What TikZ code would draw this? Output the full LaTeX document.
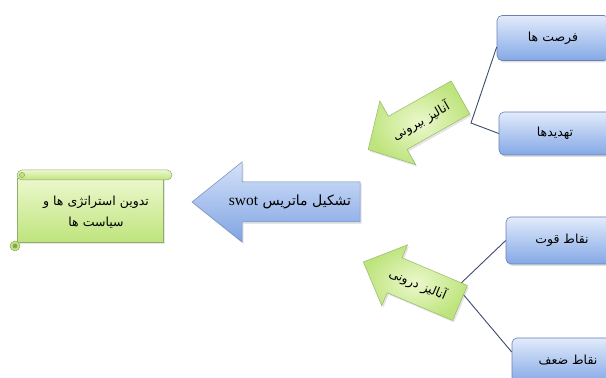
\documentclass[tikz,border=0pt]{standalone}
\usepackage{fontspec}
\usetikzlibrary{shadows,calc}
\TeXXeTstate=1
\newfontfamily\fa[Script=Arabic]{DejaVu Sans}
\newfontfamily\lser{Liberation Serif}
\definecolor{boxtop}{RGB}{226,235,251}
\definecolor{boxbot}{RGB}{132,168,230}
\definecolor{boxline}{RGB}{105,130,178}
\definecolor{gin}{RGB}{236,248,205}
\definecolor{gout}{RGB}{190,228,125}
\definecolor{gline}{RGB}{150,185,105}
\definecolor{btop}{RGB}{212,226,249}
\definecolor{bbot}{RGB}{128,163,226}
\definecolor{bline}{RGB}{115,140,188}
\definecolor{conncol}{RGB}{62,76,108}
\begin{document}
\begin{tikzpicture}[x=1pt,y=1pt,
  box/.style={draw=boxline, line width=0.6pt, rounded corners=5pt,
    top color=boxtop, bottom color=boxbot, minimum width=112pt,
    minimum height=45pt, inner sep=2pt, text=black,
    font=\fa\fontsize{12.5}{14}\selectfont,
    drop shadow={opacity=0.25, shadow xshift=1.5pt, shadow yshift=-2pt}},
  conn/.style={draw=conncol, line width=0.9pt},
  garrow/.style={draw=gline, line width=0.5pt, inner color=gin, outer color=gout,
    drop shadow={opacity=0.2, shadow xshift=1.5pt, shadow yshift=-2pt}},
  gtext/.style={font=\fa\fontsize{12.5}{14}\selectfont, inner sep=1pt, text=black},
  barrow/.style={draw=bline, line width=0.5pt, top color=btop, bottom color=bbot,
    drop shadow={opacity=0.2, shadow xshift=1.5pt, shadow yshift=-2pt}},
  scrollpart/.style={draw=gline!80!gray, line width=0.5pt, top color=gin, bottom color=gout}
]
\useasboundingbox (0,0) rectangle (606,378);
\fill[white] (0,0) rectangle (606,378);

% boxes on the right
\node[box] (b1) at (553,340) {\beginR فرصت ها\endR};
\node[box, minimum height=43pt] (b2) at (555,244.5) {\beginR تهدیدها\endR};
\node[box, minimum height=47pt] (b3) at (562,137.5) {\beginR نقاط قوت\endR};
\node[box] (b4) at (568,17.5) {\beginR نقاط ضعف\endR};

% connectors
\coordinate (v1) at (471,255);
\coordinate (v2) at (457,91);
\draw[conn] ([yshift=-9pt]b1.west) -- (v1) -- (b2.west);
\draw[conn] (b3.west) -- (v2) -- ([yshift=8.5pt]b4.west);

% green arrow: external analysis
\begin{scope}[shift={(460.5,280.5)}, rotate=209.4]
  \path[garrow] (0,-19) -- (72,-19) -- (72,-36.5) -- (106,0) -- (72,36.5) -- (72,19) -- (0,19) -- cycle;
  \node[gtext, rotate=29.4] (t1) at (46,1) {\beginR آنالیز بیرونی\endR};
\end{scope}

% green arrow: internal analysis
\begin{scope}[shift={(460,75)}, rotate=157]
  \path[garrow] (0,-19) -- (71,-19) -- (71,-33) -- (105,0) -- (71,33) -- (71,19) -- (0,19) -- cycle;
  \node[gtext, rotate=-23] (t2) at (46,-1) {\beginR آنالیز درونی\endR};
\end{scope}

% blue arrow
\path[barrow] (360,196) -- (242,196) -- (242,216) -- (192,176) -- (242,136) -- (242,156) -- (360,156) -- cycle;
\node[font=\fa\fontsize{14}{16}\selectfont, inner sep=1pt] (t3) at (290,176)
  {\beginR تشکیل ماتریس \beginL{\lser\fontsize{15.5}{16}\selectfont swot}\endL\endR};

% scroll
\path[scrollpart, drop shadow={opacity=0.2, shadow xshift=1.5pt, shadow yshift=-2pt}] (17,136) rectangle (163,200);
\path[scrollpart, rounded corners=5pt] (17,198) rectangle (172,208);
\path[draw=gline!80!gray, line width=0.5pt, fill=gout] (22,203) circle (2.6);
\path[draw=gline!80!gray, line width=0.5pt, fill=gout] (15,132) circle (5);
\path[draw=gline!80!gray, line width=0.4pt, fill=gout!70!black] (15,132) circle (2.2);
\node[font=\fa\fontsize{12.5}{21}\selectfont, align=center, inner sep=1pt] (s) at (96,166)
  {\beginR تدوین استراتژی ها و\endR\\\beginR سیاست ها\endR};
\end{tikzpicture}
\end{document}
